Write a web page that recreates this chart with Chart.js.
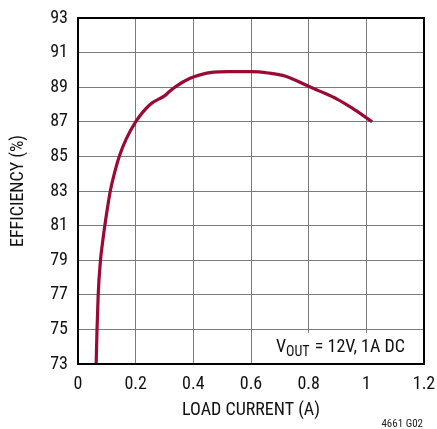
<!DOCTYPE html>
<html>
<head>
<meta charset="utf-8">
<script src="https://cdn.jsdelivr.net/npm/chart.js@4"></script>
<style>
  html, body { margin: 0; padding: 0; background: #fff; }
  #wrap { width: 437px; height: 429px; position: relative; }
</style>
</head>
<body>
<div id="wrap"><canvas id="effChart" width="437" height="429"></canvas></div>
<script>
// load current (A) and efficiency (%)
const loadCurrent = [0.063, 0.066, 0.07, 0.078, 0.085, 0.093, 0.112, 0.126, 0.143, 0.167, 0.2, 0.25, 0.3, 0.318, 0.34, 0.387, 0.42, 0.47, 0.52, 0.6, 0.66, 0.72, 0.8, 0.84, 0.9, 0.95, 1.02];
const efficiency  = [73, 75, 77, 79, 80, 81, 83, 84, 85, 86, 87, 88, 88.5, 88.76, 89.05, 89.5, 89.7, 89.87, 89.9, 89.9, 89.82, 89.63, 89.05, 88.76, 88.3, 87.8, 87.0];

const xTicks = [0, 0.2, 0.4, 0.6, 0.8, 1, 1.2];
const yTicks = [73, 75, 77, 79, 81, 83, 85, 87, 89, 91, 93];

const points = loadCurrent.map((x, i) => ({ x: x, y: efficiency[i] }));

const FONT = "'Roboto Condensed', 'DejaVu Sans Condensed', sans-serif";

// frame, condition label and figure id
const extras = {
    id: 'extras',
    afterDatasetsDraw(chart) {
        const ctx = chart.ctx;
        const a = chart.chartArea;
        ctx.save();
        // white box behind the note
        ctx.fillStyle = '#fff';
        ctx.fillRect(272, 333, a.right - 273, a.bottom - 334);
        ctx.fillStyle = '#111';
        ctx.textBaseline = 'alphabetic';
        ctx.textAlign = 'left';
        let x = 276;
        ctx.font = '18px ' + FONT;
        ctx.fillText('V', x, 352);
        x += ctx.measureText('V').width;
        ctx.font = '14px ' + FONT;
        ctx.fillText('OUT', x, 356);
        x += ctx.measureText('OUT').width + 1;
        ctx.font = '18px ' + FONT;
        ctx.fillText(' = 12V, 1A DC', x, 352);

        // outer frame
        ctx.strokeStyle = '#000';
        ctx.lineWidth = 2;
        ctx.strokeRect(a.left, a.top, a.right - a.left, a.bottom - a.top);

        ctx.font = '11px ' + FONT;
        ctx.fillStyle = '#222';
        ctx.textAlign = 'right';
        ctx.fillText('4661 G02', 423, 427);
        ctx.restore();
    }
};

new Chart(document.getElementById('effChart'), {
    type: 'line',
    data: {
        datasets: [{
            data: points,
            borderColor: '#990a35',
            borderWidth: 3.2,
            pointRadius: 0,
            fill: false,
            cubicInterpolationMode: 'monotone'
        }]
    },
    options: {
        responsive: false,
        animation: false,
        layout: { padding: { top: 18, right: 13, left: 0, bottom: 0 } },
        plugins: { legend: { display: false }, tooltip: { enabled: false } },
        scales: {
            x: {
                type: 'linear',
                min: 0,
                max: 1.2,
                afterBuildTicks: (scale) => { scale.ticks = xTicks.map(v => ({ value: v })); },
                afterFit: (scale) => {
                    scale.height = 65;
                    scale.paddingLeft = 0;
                    scale.paddingRight = 0;
                },
                grid: { color: '#7a7a7a', lineWidth: 1, drawTicks: false },
                border: { display: false },
                ticks: {
                    color: '#111',
                    font: { family: FONT, size: 18 },
                    padding: 10,
                    maxRotation: 0,
                    callback: (v) => String(v)
                },
                title: {
                    display: true,
                    text: 'LOAD CURRENT (A)',
                    color: '#111',
                    font: { family: FONT, size: 18 },
                    padding: { top: 2, bottom: 8 }
                }
            },
            y: {
                min: 73,
                max: 93,
                afterBuildTicks: (scale) => { scale.ticks = yTicks.map(v => ({ value: v })); },
                afterFit: (scale) => {
                    scale.width = 78;
                    scale.paddingTop = 0;
                    scale.paddingBottom = 0;
                },
                grid: { color: '#7a7a7a', lineWidth: 1, drawTicks: false },
                border: { display: false },
                ticks: {
                    color: '#111',
                    font: { family: FONT, size: 18 },
                    padding: 10
                },
                title: {
                    display: true,
                    text: 'EFFICIENCY (%)',
                    color: '#111',
                    font: { family: FONT, size: 18 },
                    padding: { top: 8, bottom: 0 }
                }
            }
        }
    },
    plugins: [extras]
});
</script>
</body>
</html>
